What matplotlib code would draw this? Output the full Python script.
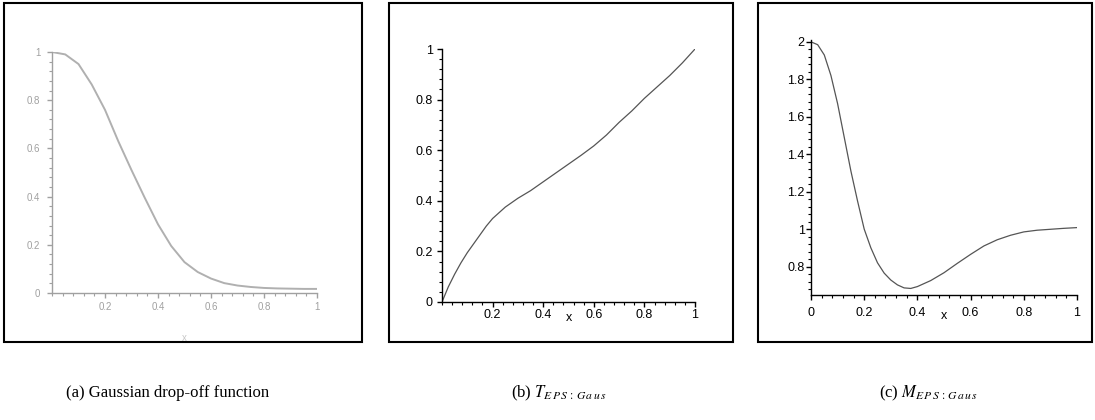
import matplotlib
matplotlib.use("Agg")
import matplotlib.pyplot as plt
from matplotlib.patches import Rectangle
from matplotlib.ticker import MultipleLocator

plt.rcParams["font.family"] = ["Liberation Sans", "DejaVu Sans"]
plt.rcParams["mathtext.fontset"] = "stix"

# (a) Gaussian drop-off function
gauss_x = [0, 0.05, 0.1, 0.15, 0.2, 0.25, 0.3, 0.35, 0.4, 0.45, 0.5,
           0.55, 0.6, 0.65, 0.7, 0.75, 0.8, 0.85, 0.9, 0.95, 1.0]
gauss_y = [1.0, 0.99, 0.95, 0.865, 0.76, 0.63, 0.51, 0.395, 0.285, 0.195, 0.128,
           0.087, 0.06, 0.041, 0.031, 0.025, 0.021, 0.019, 0.018, 0.017, 0.017]

# (b) T_EPS:Gaus
t_x = [0, 0.025, 0.05, 0.075, 0.1, 0.125, 0.15, 0.175, 0.2, 0.25, 0.3, 0.35,
       0.4, 0.45, 0.5, 0.55, 0.6, 0.65, 0.7, 0.75, 0.8, 0.85, 0.9, 0.95, 1.0]
t_y = [0, 0.06, 0.11, 0.155, 0.195, 0.23, 0.265, 0.3, 0.33, 0.375, 0.41, 0.44,
       0.475, 0.51, 0.545, 0.58, 0.617, 0.66, 0.71, 0.755, 0.805, 0.85, 0.895, 0.945, 1.0]

# (c) M_EPS:Gaus
m_x = [0, 0.025, 0.05, 0.075, 0.1, 0.125, 0.15, 0.175, 0.2, 0.225, 0.25, 0.275,
       0.3, 0.325, 0.35, 0.375, 0.4, 0.45, 0.5, 0.55, 0.6, 0.65, 0.7, 0.75,
       0.8, 0.85, 0.9, 0.95, 1.0]
m_y = [2.0, 1.985, 1.93, 1.82, 1.67, 1.49, 1.31, 1.15, 1.0, 0.9, 0.82, 0.765,
       0.728, 0.702, 0.686, 0.683, 0.693, 0.725, 0.767, 0.817, 0.865, 0.91, 0.943, 0.967,
       0.985, 0.994, 0.999, 1.004, 1.008]

captions = ["(a) Gaussian drop-off function",
            r"(b) $T_{E\,P\,S\,:\,G\,a\,u\,s}$",
            r"(c) $M_{E\,P\,S\,:\,G\,a\,u\,s}$"]

W, H = 1095, 420
fig = plt.figure(figsize=(W / 100, H / 100), dpi=100)


def px_axes(x0, x1, y0, y1):
    return fig.add_axes([x0 / W, 1 - y1 / H, (x1 - x0) / W, (y1 - y0) / H])


def maple_style(ax, ylo, yhi, color, size, xpad, ypad):
    ax.set_xlim(0, 1)
    ax.set_ylim(ylo, yhi)
    ax.patch.set_visible(False)
    for s in ["top", "right"]:
        ax.spines[s].set_visible(False)
    for s in ["left", "bottom"]:
        ax.spines[s].set_color(color)
        ax.spines[s].set_linewidth(1.0)
    ax.xaxis.set_minor_locator(MultipleLocator(0.04))
    ax.yaxis.set_minor_locator(MultipleLocator(0.04))
    ax.tick_params(which="major", length=3.5, width=1.0, color=color,
                   labelsize=size, labelcolor=color)
    ax.tick_params(which="minor", length=2, width=0.8, color=color)
    ax.tick_params(axis="x", pad=xpad)
    ax.tick_params(axis="y", pad=ypad)


# panel boxes
for x0, x1 in [(4, 362), (389, 733), (758, 1092)]:
    fig.add_artist(Rectangle((x0 / W, 1 - 342 / H), (x1 - x0) / W, 339 / H,
                             transform=fig.transFigure, fill=False,
                             lw=1.5, edgecolor="black"))

# (a)
ax1 = px_axes(52, 317, 52, 293)
ax1.plot(gauss_x, gauss_y, color="#b0b0b0", lw=1.4)
maple_style(ax1, 0, 1, "#a0a0a0", 7, 3, 5)
ax1.set_xticks([0.2, 0.4, 0.6, 0.8, 1.0])
ax1.set_xticklabels(["0.2", "0.4", "0.6", "0.8", "1"])
ax1.set_yticks([0, 0.2, 0.4, 0.6, 0.8, 1.0])
ax1.set_yticklabels(["0", "0.2", "0.4", "0.6", "0.8", "1"])
ax1.annotate("x", xy=(0.5, 0), xycoords=("data", "axes fraction"),
             xytext=(0, -29), textcoords="offset points", ha="center",
             va="top", fontsize=7, color="#c8c8c8")

# (b)
ax2 = px_axes(442, 695, 49, 302)
ax2.plot(t_x, t_y, color="#555555", lw=0.9)
maple_style(ax2, 0, 1, "black", 9, 1.5, 3)
ax2.set_xticks([0.2, 0.4, 0.6, 0.8, 1.0])
ax2.set_xticklabels(["0.2", "0.4", "0.6", "0.8", "1"])
ax2.set_yticks([0, 0.2, 0.4, 0.6, 0.8, 1.0])
ax2.set_yticklabels(["0", "0.2", "0.4", "0.6", "0.8", "1"])
ax2.annotate("x", xy=(0.5, 0), xycoords=("data", "axes fraction"),
             xytext=(0, -7), textcoords="offset points", ha="center",
             va="top", fontsize=9)

# (c)
ax3 = px_axes(811, 1077, 40, 295)
ax3.plot(m_x, m_y, color="#555555", lw=0.9)
maple_style(ax3, 0.648, 2.01, "black", 9, 5, 1)
ax3.set_xticks([0, 0.2, 0.4, 0.6, 0.8, 1.0])
ax3.set_xticklabels(["0", "0.2", "0.4", "0.6", "0.8", "1"])
ax3.set_yticks([0.8, 1.0, 1.2, 1.4, 1.6, 1.8, 2.0])
ax3.set_yticklabels(["0.8", "1", "1.2", "1.4", "1.6", "1.8", "2"])
ax3.annotate("x", xy=(0.5, 0), xycoords=("data", "axes fraction"),
             xytext=(0, -11), textcoords="offset points", ha="center",
             va="top", fontsize=9)

# captions
for cx, txt in zip([168, 559, 929], captions):
    fig.text(cx / W, 1 - 393 / H, txt, ha="center", va="center",
             fontsize=12, family="Liberation Serif")

fig.savefig("out.png", dpi=100)
